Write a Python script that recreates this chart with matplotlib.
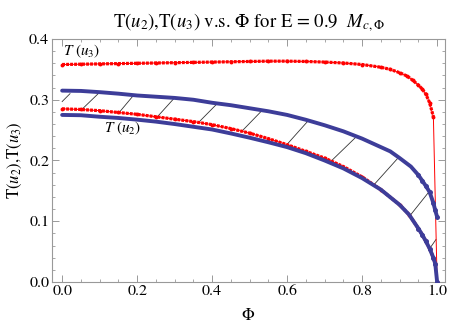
import matplotlib
matplotlib.use('Agg')
import matplotlib.pyplot as plt
from matplotlib.ticker import MultipleLocator, FormatStrFormatter

# Times-like text with matching math
plt.rcParams['font.family'] = 'STIXGeneral'
plt.rcParams['mathtext.fontset'] = 'stix'

# T(u3): upper red dotted curve
phi_u3 = [0.0, 0.05, 0.1, 0.15, 0.2, 0.25, 0.3, 0.35, 0.4, 0.45, 0.5, 0.55, 0.6, 0.65,
          0.7, 0.75, 0.8, 0.85, 0.875, 0.9, 0.92, 0.935, 0.95, 0.96, 0.97, 0.98, 0.99, 1.0]
t_u3 = [0.358, 0.3585, 0.359, 0.3595, 0.360, 0.3605, 0.361, 0.3615, 0.362, 0.3625, 0.363,
        0.3635, 0.3635, 0.363, 0.362, 0.3605, 0.358, 0.3535, 0.350, 0.3445, 0.339, 0.332,
        0.324, 0.318, 0.309, 0.295, 0.272, 0.0]

# middle red dotted curve (runs into the lower blue curve)
phi_mid = [0.0, 0.05, 0.1, 0.15, 0.2, 0.25, 0.3, 0.35, 0.4, 0.45, 0.5, 0.55, 0.6, 0.65,
           0.7, 0.75, 0.8, 0.85, 0.9, 0.925, 0.95, 0.96, 0.97, 0.98, 0.99, 0.995, 1.0]
t_mid = [0.285, 0.284, 0.282, 0.279, 0.276, 0.272, 0.268, 0.264, 0.259, 0.2525, 0.245,
         0.236, 0.226, 0.215, 0.204, 0.190, 0.173, 0.152, 0.127, 0.111, 0.088, 0.078,
         0.067, 0.055, 0.040, 0.030, 0.0]

# upper blue curve
phi_up = [0.0, 0.05, 0.1, 0.15, 0.2, 0.25, 0.3, 0.35, 0.4, 0.45, 0.5, 0.55, 0.6, 0.65,
          0.7, 0.75, 0.8, 0.85, 0.875, 0.9, 0.93, 0.95, 0.96, 0.97, 0.98, 0.99, 0.995, 1.0]
t_up = [0.315, 0.3145, 0.3125, 0.310, 0.307, 0.305, 0.303, 0.300, 0.295, 0.291, 0.286,
        0.281, 0.275, 0.267, 0.258, 0.248, 0.236, 0.222, 0.215, 0.204, 0.190, 0.176,
        0.167, 0.158, 0.148, 0.130, 0.118, 0.107]

# T(u2): lower blue curve
phi_u2 = [0.0, 0.05, 0.1, 0.15, 0.2, 0.25, 0.3, 0.35, 0.4, 0.45, 0.5, 0.55, 0.6, 0.65,
          0.7, 0.75, 0.8, 0.85, 0.9, 0.925, 0.95, 0.96, 0.97, 0.98, 0.99, 0.995, 1.0]
t_u2 = [0.275, 0.2745, 0.272, 0.270, 0.2672, 0.264, 0.260, 0.2555, 0.251, 0.2445, 0.2375,
        0.230, 0.222, 0.212, 0.200, 0.187, 0.171, 0.152, 0.127, 0.111, 0.088, 0.078,
        0.067, 0.055, 0.040, 0.030, 0.0]

# hatch segments between middle red and upper blue
hatch_phi_lo = [0.0, 0.0525, 0.152, 0.254, 0.366, 0.479, 0.599, 0.719, 0.830, 0.926, 0.979]
hatch_t_lo = [0.297, 0.284, 0.279, 0.272, 0.264, 0.248, 0.226, 0.200, 0.159, 0.108, 0.054]
hatch_phi_hi = [0.021, 0.0995, 0.190, 0.2995, 0.4125, 0.5325, 0.657, 0.786, 0.897, 0.979, 0.997]
hatch_t_hi = [0.310, 0.312, 0.307, 0.303, 0.293, 0.282, 0.266, 0.240, 0.205, 0.149, 0.070]

blue = (0.24, 0.24, 0.6)

fig = plt.figure(figsize=(4.5, 3.33), dpi=100)
ax = fig.add_axes([0.1156, 0.1532, 0.8733, 0.7297])

# hatching
for x0, y0, x1, y1 in zip(hatch_phi_lo, hatch_t_lo, hatch_phi_hi, hatch_t_hi):
    ax.plot([x0, x1], [y0, y1], color='#333333', lw=0.6, zorder=1)

# red dotted curves: thin joining line + dense dots (not on the last jump) + point markers
for px, py in [(phi_u3, t_u3), (phi_mid, t_mid)]:
    ax.plot(px, py, color='red', lw=0.7, zorder=2)
    ax.plot(px[:-1], py[:-1], color='red', lw=2.3, ls=(0, (0.9, 0.35)), zorder=2)
    ax.plot(px, py, 'o', color='red', ms=2.8, mew=0, zorder=2)

# blue curves, point markers only show where the samples thin out
for px, py in [(phi_up, t_up), (phi_u2, t_u2)]:
    ax.plot(px, py, color=blue, lw=2.8, solid_capstyle='round', zorder=3)
    ends = [i for i, p in enumerate(px) if p >= 0.95]
    ax.plot(px, py, 'o', color=blue, ms=3.6, mew=0, markevery=ends, ls='none', zorder=3)

ax.text(0.003, 0.380, r'$T\ (u_3)$', fontsize=11, va='center', ha='left')
ax.text(0.112, 0.253, r'$T\ (u_2)$', fontsize=11, va='center', ha='left')

ax.set_xlim(-0.027, 1.021)
ax.set_ylim(0.0, 0.4)
ax.xaxis.set_major_locator(MultipleLocator(0.2))
ax.xaxis.set_minor_locator(MultipleLocator(0.05))
ax.yaxis.set_major_locator(MultipleLocator(0.1))
ax.yaxis.set_minor_locator(MultipleLocator(0.02))
ax.xaxis.set_major_formatter(FormatStrFormatter('%.1f'))
ax.yaxis.set_major_formatter(FormatStrFormatter('%.1f'))
ax.tick_params(which='both', direction='in', top=True, right=True, color='#999999',
               labelsize=11.5, pad=2)
ax.tick_params(which='major', length=5, width=0.7)
ax.tick_params(which='minor', length=2.5, width=0.6)
for s in ax.spines.values():
    s.set_color('#999999')
    s.set_linewidth(0.8)

ax.set_xlabel(r'$\Phi$', fontsize=12, labelpad=7)
ax.set_ylabel(r'T($u_2$),T($u_3$)', fontsize=12, labelpad=4)
ax.set_title(r'T($u_2$),T($u_3$) v.s. $\Phi$ for E = 0.9  $M_{c,\Phi}$', fontsize=13.5, pad=8)

fig.savefig('out.png', dpi=100)
